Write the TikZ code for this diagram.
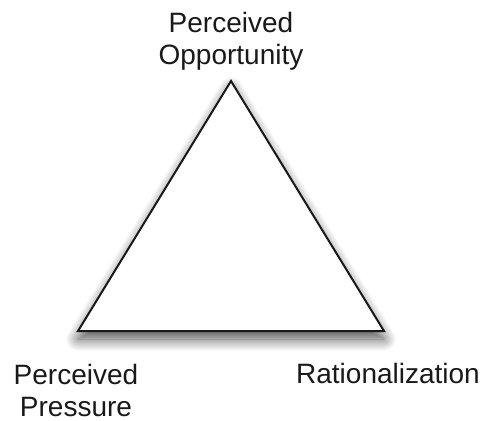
\documentclass[tikz,border=0pt]{standalone}
\usepackage{fontspec}
\setmainfont{Liberation Sans}
\usetikzlibrary{shadows.blur}
\begin{document}
\begin{tikzpicture}[x=1pt,y=-1pt,
  label text/.style={font=\fontsize{28}{32}\selectfont, align=center, inner sep=0pt, text=black!90},
  fraud/.style={draw=black!90, line width=2pt, fill=white, line join=miter,
    blur shadow={shadow xshift=0pt, shadow yshift=-8pt, shadow blur radius=12pt, shadow blur steps=12, shadow opacity=70}}]
  \useasboundingbox (0,0) rectangle (483,421);
  % triangle corners
  \coordinate (top) at (231,81);
  \coordinate (left) at (78,331);
  \coordinate (right) at (384,331);
  \path[fraud] (top) -- (left) -- (right) -- cycle;
  % labels
  \node[label text] (opp) at (231,41) {Perceived\\Opportunity};
  \node[label text] (pres) at (76,390) {Perceived\\Pressure};
  \node[label text, anchor=base] (rat) at (388,383) {Rationalization};
\end{tikzpicture}
\end{document}
